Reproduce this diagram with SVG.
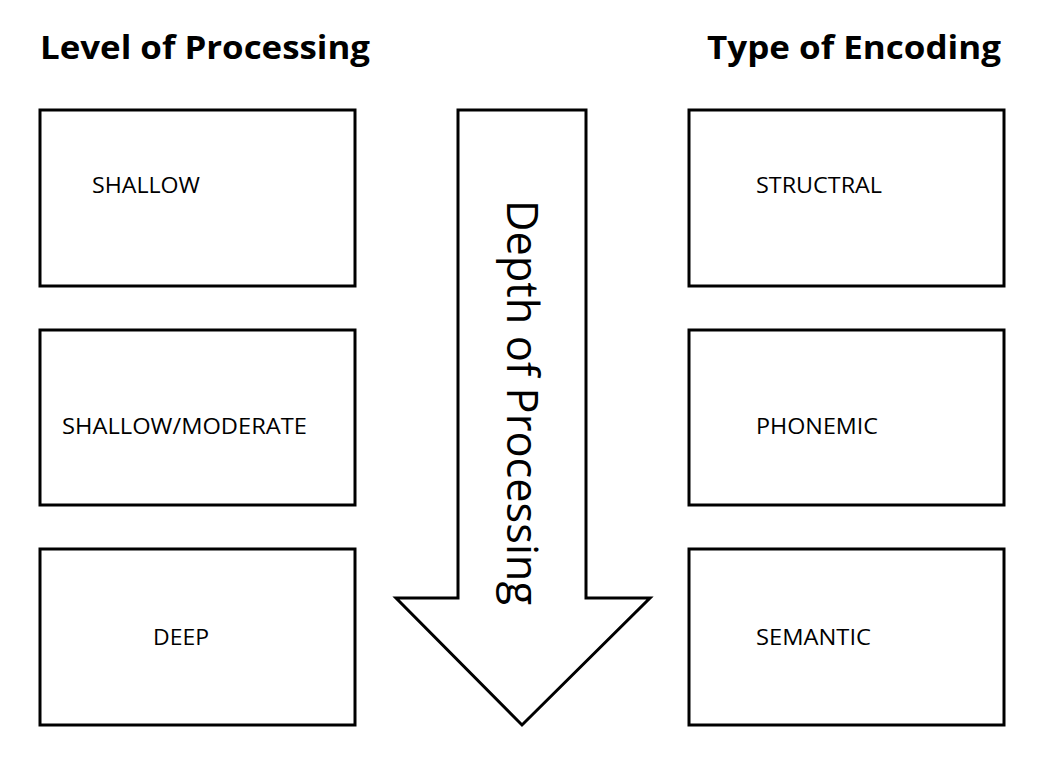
<svg xmlns="http://www.w3.org/2000/svg" width="1039" height="763" viewBox="0 0 1039 763">
<style>
.box{fill:#fff;stroke:#000;stroke-width:3}
.lbl{font-family:"Open Sans",sans-serif;font-size:22px;fill:#000}
.ttl{font-family:"Open Sans",sans-serif;font-size:33px;font-weight:bold;fill:#000}
</style>
<rect width="1039" height="763" fill="#fff"/>
<text class="ttl" x="40" y="59" textLength="330" lengthAdjust="spacingAndGlyphs">Level of Processing</text>
<text class="ttl" x="707" y="59" textLength="294" lengthAdjust="spacingAndGlyphs">Type of Encoding</text>
<g id="shallow"><rect class="box" x="40" y="110" width="315" height="176"/><text class="lbl" x="92" y="193" textLength="108" lengthAdjust="spacingAndGlyphs">SHALLOW</text></g>
<g id="moderate"><rect class="box" x="40" y="330" width="315" height="175"/><text class="lbl" x="62" y="434" textLength="245" lengthAdjust="spacingAndGlyphs">SHALLOW/MODERATE</text></g>
<g id="deep"><rect class="box" x="40" y="549" width="315" height="176"/><text class="lbl" x="153" y="645" textLength="56" lengthAdjust="spacingAndGlyphs">DEEP</text></g>
<g id="structral"><rect class="box" x="689" y="110" width="315" height="176"/><text class="lbl" x="756" y="193" textLength="126" lengthAdjust="spacingAndGlyphs">STRUCTRAL</text></g>
<g id="phonemic"><rect class="box" x="689" y="330" width="315" height="175"/><text class="lbl" x="756" y="434" textLength="122" lengthAdjust="spacingAndGlyphs">PHONEMIC</text></g>
<g id="semantic"><rect class="box" x="689" y="549" width="315" height="176"/><text class="lbl" x="756" y="645" textLength="115" lengthAdjust="spacingAndGlyphs">SEMANTIC</text></g>
<g id="arrow"><polygon class="box" stroke-width="2" points="458,110 586,110 586,598 650,598 522,725 396,598 458,598"/>
<text x="200" y="0" transform="translate(507,0) rotate(90)" textLength="405" lengthAdjust="spacingAndGlyphs" style="font-family:'Open Sans',sans-serif;font-size:43px">Depth of Processing</text></g>
<g id="connectors"/>
</svg>
